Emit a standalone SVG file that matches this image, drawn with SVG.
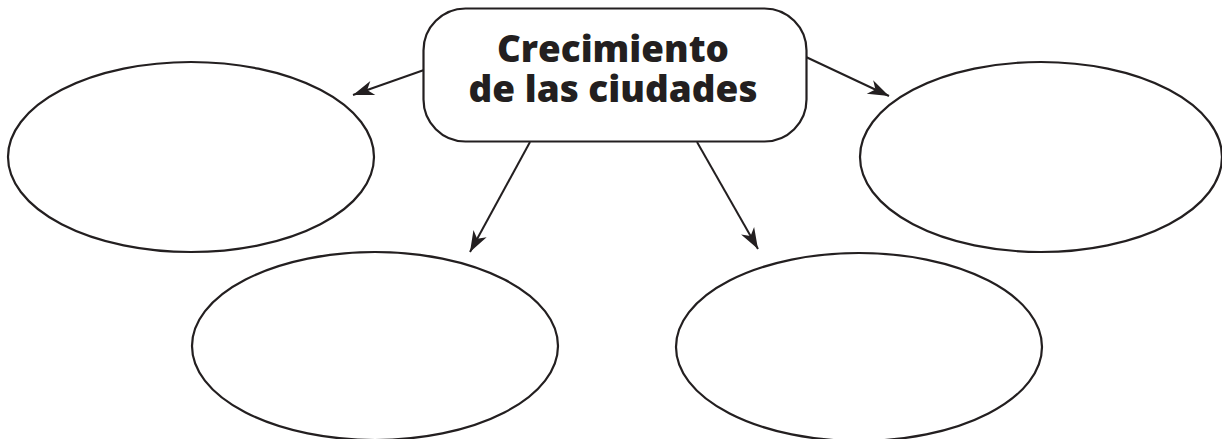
<svg xmlns="http://www.w3.org/2000/svg" width="1222" height="439" viewBox="0 0 1222 439">
<defs>
<style>
.node{fill:#fff;stroke:#231f20;stroke-width:2.2}
.conn{stroke:#231f20;stroke-width:2;fill:none}
.title{font-family:"Open Sans","Liberation Sans",sans-serif;font-weight:800;font-size:37px;fill:#231f20;text-anchor:middle}
</style>
<marker id="arr" markerUnits="userSpaceOnUse" markerWidth="30" markerHeight="20" viewBox="-22 -10 24 20" refX="0" refY="0" orient="auto">
<path d="M0,0 L-21,-7.5 L-15,0 L-21,7.5 Z" fill="#231f20"/>
</marker>
</defs>
<rect width="1222" height="439" fill="#fff"/>
<g id="connectors">
<line class="conn" x1="424" y1="70" x2="353" y2="95" marker-end="url(#arr)"/>
<line class="conn" x1="806" y1="57" x2="889" y2="96" marker-end="url(#arr)"/>
<line class="conn" x1="530" y1="142" x2="470" y2="252" marker-end="url(#arr)"/>
<line class="conn" x1="697" y1="142" x2="758" y2="249" marker-end="url(#arr)"/>
</g>
<g id="center">
<rect class="node" x="423.5" y="8.5" width="383" height="133" rx="42" ry="42"/>
<text class="title" x="613" y="62" textLength="232" lengthAdjust="spacingAndGlyphs">Crecimiento</text>
<text class="title" x="613" y="102" textLength="289" lengthAdjust="spacingAndGlyphs">de las ciudades</text>
</g>
<g id="left"><ellipse class="node" cx="191" cy="157" rx="183" ry="95"/></g>
<g id="right"><ellipse class="node" cx="1041" cy="157" rx="181" ry="95"/></g>
<g id="bottom-left"><ellipse class="node" cx="375" cy="346" rx="183" ry="94"/></g>
<g id="bottom-right"><ellipse class="node" cx="859" cy="347" rx="183" ry="94"/></g>
</svg>
